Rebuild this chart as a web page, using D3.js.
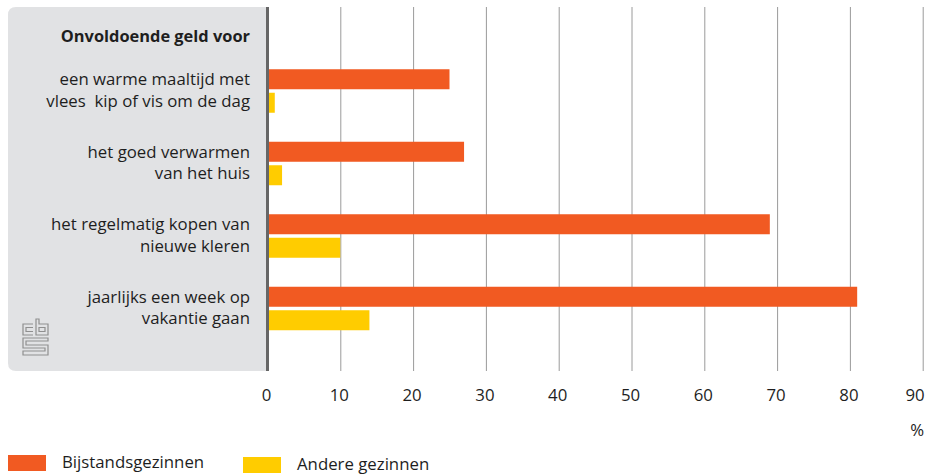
<!DOCTYPE html>
<html>
<head>
<meta charset="utf-8">
<script src="https://cdn.jsdelivr.net/npm/d3@7"></script>
<style>
  html, body { margin: 0; padding: 0; background: #fff; }
  svg { display: block; }
  text { font-family: "Open Sans", "Noto Sans", sans-serif; fill: #1e1e1e; white-space: pre; }
</style>
</head>
<body>
<svg id="chart" width="932" height="474"></svg>
<script>
const header = "Onvoldoende geld voor";
const categories = [
  ["een warme maaltijd met", "vlees  kip of vis om de dag"],
  ["het goed verwarmen", "van het huis"],
  ["het regelmatig kopen van", "nieuwe kleren"],
  ["jaarlijks een week op", "vakantie gaan"]
];
const seriesNames = ["Bijstandsgezinnen", "Andere gezinnen"];
const bijstand = [25, 27, 69, 81];
const andere = [1, 2, 10, 14];
const ticks = [0, 10, 20, 30, 40, 50, 60, 70, 80, 90];
const unit = "%";
const colors = ["#f15a22", "#ffcc00"];

(function () {
const svg = d3.select("#chart");
const catKeys = categories.map((c, i) => "c" + i);
const values = [bijstand, andere];
const fs = 16.8;

const x = d3.scaleLinear().domain([0, 90]).range([267.5, 922.7]);
const y = d3.scaleBand().domain(catKeys).range([54.75, 344.75]).paddingInner(0.4).paddingOuter(0.2);
const ySub = d3.scaleBand().domain(seriesNames).range([0, y.bandwidth()]).paddingInner(3.5 / 23.5);

const pTop = 7, pBottom = 371, pLeft = 8, r = 8;
const px = x(0);
svg.append("path")
  .attr("d", `M${px},${pTop} H${pLeft + r} Q${pLeft},${pTop} ${pLeft},${pTop + r} V${pBottom - r} Q${pLeft},${pBottom} ${pLeft + r},${pBottom} H${px} Z`)
  .attr("fill", "#e1e2e4");

svg.append("g")
  .attr("transform", `translate(0,${pBottom})`)
  .call(d3.axisBottom(x).tickValues(ticks).tickSize(-(pBottom - pTop)).tickFormat(d => d).tickPadding(18.5))
  .call(g => g.select(".domain").remove())
  .call(g => g.selectAll(".tick line").attr("stroke", "#9a9a9a").attr("stroke-width", 1))
  .call(g => g.selectAll(".tick text").attr("font-size", fs).attr("fill", "#222")
      .attr("font-family", "'Open Sans', sans-serif").attr("dx", -1.5))
  .call(g => g.selectAll(".tick text").filter(d => d === 90).attr("text-anchor", "end").attr("dx", 1.5));

seriesNames.forEach((s, si) => {
  svg.append("g").selectAll("rect")
    .data(values[si])
    .join("rect")
    .attr("x", x(0))
    .attr("y", (d, i) => y(catKeys[i]) + ySub(s))
    .attr("width", d => x(d) - x(0))
    .attr("height", ySub.bandwidth())
    .attr("fill", colors[si]);
});

svg.append("line")
  .attr("x1", px).attr("x2", px).attr("y1", pTop).attr("y2", pBottom)
  .attr("stroke", "#666").attr("stroke-width", 3);

svg.append("text")
  .attr("x", 250).attr("y", 42)
  .attr("text-anchor", "end")
  .attr("font-size", 16.4).attr("font-weight", "bold")
  .text(header);

categories.forEach((lines, i) => {
  const cy = y(catKeys[i]) + y.bandwidth() / 2;
  const t = svg.append("text")
    .attr("text-anchor", "end")
    .attr("font-size", fs);
  lines.forEach((ln, j) => {
    t.append("tspan").attr("x", 250).attr("y", cy - 6 + j * 21.5).text(ln);
  });
});

svg.append("text")
  .attr("x", 924).attr("y", 435.5)
  .attr("text-anchor", "end").attr("font-size", fs).attr("fill", "#222")
  .text(unit);

const legendX = [8, 243];
const legendY = [455, 457];
seriesNames.forEach((s, i) => {
  svg.append("rect")
    .attr("x", legendX[i]).attr("y", legendY[i])
    .attr("width", 38).attr("height", 16)
    .attr("fill", colors[i]);
  svg.append("text")
    .attr("x", legendX[i] + 54).attr("y", legendY[i] + 12.5)
    .attr("font-size", fs)
    .text(s);
});

const logo = svg.append("g").attr("fill", "none").attr("stroke", "#8f8f8f").attr("stroke-width", 1.2);
logo.append("path").attr("d", "M33,324 H23 V335 H33 M33,327.5 H26 V331.5 H33");
logo.append("path").attr("d", "M36,319 V335 H48 V324 H39 V319 Z M39,327.5 H45 V331.5 H39 Z");
logo.append("path").attr("d", "M48,338 H23 V348 H45 V351 H23 V355 H48 V345 H26 V341 H48 Z");
})();
</script>
</body>
</html>
